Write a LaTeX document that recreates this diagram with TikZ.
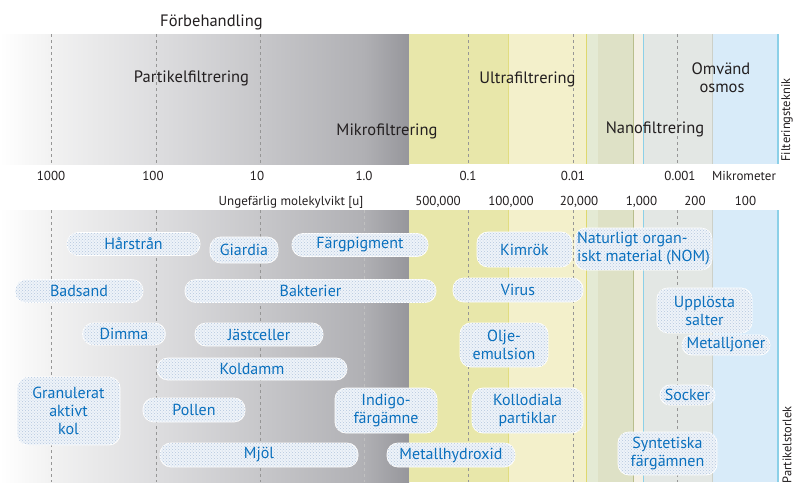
\documentclass[tikz,border=0pt]{standalone}
\usepackage{fontspec}
\setmainfont{PT Sans}
\usetikzlibrary{patterns}
\definecolor{g1}{RGB}{242,242,242}
\definecolor{g2}{RGB}{221,221,223}
\definecolor{g3}{RGB}{199,199,202}
\definecolor{g4}{RGB}{176,176,180}
\definecolor{g5}{RGB}{150,150,155}
\pgfdeclarehorizontalshading{grayband}{100bp}{color(0bp)=(white); color(25bp)=(white); color(31.1bp)=(g1); color(44.1bp)=(g2); color(56.8bp)=(g3); color(69.5bp)=(g4); color(75bp)=(g5); color(100bp)=(g5)}
\definecolor{zA}{RGB}{232,231,170}
\definecolor{zB}{RGB}{243,240,203}
\definecolor{zC}{RGB}{228,234,212}
\definecolor{zD}{RGB}{222,225,198}
\definecolor{zE}{RGB}{244,240,229}
\definecolor{zF}{RGB}{227,231,228}
\definecolor{zG}{RGB}{216,235,249}
\definecolor{lnyel}{RGB}{222,216,110}
\definecolor{lnolive}{RGB}{185,190,140}
\definecolor{lncyan}{RGB}{140,208,232}
\definecolor{lngray}{RGB}{205,208,200}
\definecolor{dashc}{RGB}{150,150,150}
\definecolor{ink}{RGB}{35,31,32}
\definecolor{blobfill}{RGB}{238,243,249}
\definecolor{blobdot}{RGB}{180,199,222}
\definecolor{blobtext}{RGB}{10,112,190}
\tikzset{
  x=1pt, y=-1pt,
  dashline/.style={dashc, line width=0.8pt, dash pattern=on 3pt off 3pt},
  biglabel/.style={text=ink, font=\fontsize{16.5}{18}\selectfont, anchor=base, inner sep=0pt, align=center},
  scalelabel/.style={text=ink, font=\fontsize{13}{14}\selectfont, anchor=base, inner sep=0pt},
  sidelabel/.style={text=ink, font=\fontsize{12.5}{14}\selectfont, rotate=90, inner sep=0pt},
  blob/.style={rectangle, rounded corners=11pt, fill=blobfill, draw=white, line width=0.8pt,
    postaction={pattern=crosshatch dots, pattern color=blobdot},
    text=blobtext, font=\fontsize{16}{18}\selectfont, align=center, inner sep=0pt}
}
\begin{document}
\begin{tikzpicture}
\useasboundingbox (0,0) rectangle (800,493);
\fill[white] (0,0) rectangle (800,493);
% bands
\foreach \ya/\yb in {34/164, 210/482}{
  \fill[shading=grayband] (0,\ya) rectangle (409,\yb);
  \fill[zA] (409,\ya) rectangle (508,\yb);
  \fill[zB] (508,\ya) rectangle (586,\yb);
  \fill[zC] (586,\ya) rectangle (598,\yb);
  \fill[zD] (598,\ya) rectangle (633,\yb);
  \fill[zE] (633,\ya) rectangle (643,\yb);
  \fill[zF] (643,\ya) rectangle (712,\yb);
  \fill[zG] (712,\ya) rectangle (778,\yb);
  \draw[lnyel!70!zA, line width=0.8pt] (508,\ya) -- (508,\yb);
  \draw[lnyel, line width=0.8pt] (586,\ya) -- (586,\yb);
  \draw[lnolive, line width=0.8pt] (633,\ya) -- (633,\yb);
  \draw[lncyan, line width=1pt] (643,\ya) -- (643,\yb);
  \draw[lngray, line width=0.8pt] (712,\ya) -- (712,\yb);
  \draw[lncyan, line width=1.2pt] (778,\ya) -- (778,\yb);
  \foreach \xx in {51,156,260,468,573,677}{
    \draw[dashline] (\xx,\ya) -- (\xx,\yb);
  }
}
\draw[dashline, dashc!60] (364,210) -- (364,482);
% top labels
\node[biglabel] (forb) at (211.5,26) {Förbehandling};
\node[biglabel] (partf) at (191.5,82) {Partikelfiltrering};
\node[biglabel] (mikrof) at (387,135) {Mikrofiltrering};
\node[biglabel] (ultraf) at (527.5,83) {Ultrafiltrering};
\node[biglabel] (nanof) at (655,133) {Nanofiltrering};
\node[biglabel] (omv) at (721,74) {Omvänd};
\node[biglabel] (osm) at (722,92) {osmos};
% scale
\node[scalelabel] (s1000) at (51,180) {1000};
\node[scalelabel] (s100) at (153,180) {100};
\node[scalelabel] (s10) at (257,180) {10};
\node[scalelabel] (s1) at (364,180) {1.0};
\node[scalelabel] (s01) at (468,180) {0.1};
\node[scalelabel] (s001) at (573,180) {0.01};
\node[scalelabel] (s0001) at (680,180) {0.001};
\node[scalelabel] (smik) at (744,180) {Mikrometer};
\node[scalelabel] (umw) at (291,205) {Ungefärlig molekylvikt [u]};
\node[scalelabel] (m500) at (438,205) {500,000};
\node[scalelabel] (m100k) at (511,205) {100,000};
\node[scalelabel] (m20k) at (579,205) {20,000};
\node[scalelabel] (m1k) at (641.5,205) {1,000};
\node[scalelabel] (m200) at (695,205) {200};
\node[scalelabel] (m100) at (745.5,205) {100};
% side labels
\node[sidelabel] (filt) at (787,120) {Filteringsteknik};
\node[sidelabel] (pstor) at (787,445) {Partikelstorlek};
% blobs
\node[blob, minimum width=133pt, minimum height=23pt] (harstran) at (133.5,244) {Hårstrån};
\node[blob, minimum width=68pt, minimum height=26pt] (giardia) at (244,250) {Giardia};
\node[blob, minimum width=136pt, minimum height=23pt] (fargpig) at (360,245) {Färgpigment};
\node[blob, minimum width=128pt, minimum height=23pt] (badsand) at (79,291) {Badsand};
\node[blob, minimum width=251pt, minimum height=23pt] (bakterier) at (310.5,291) {Bakterier};
\node[blob, minimum width=83pt, minimum height=22pt] (dimma) at (124,334) {Dimma};
\node[blob, minimum width=128pt, minimum height=23pt] (jast) at (259,334.5) {Jästceller};
\node[blob, minimum width=190pt, minimum height=22pt] (koldamm) at (252,369) {Koldamm};
\node[blob, minimum width=103pt, minimum height=68pt] (gak) at (68.5,411) {Granulerat\\aktivt\\kol};
\node[blob, minimum width=102pt, minimum height=24pt] (pollen) at (194,410) {Pollen};
\node[blob, minimum width=102pt, minimum height=45pt] (indigo) at (386,410.5) {Indigo-\\färgämne};
\node[blob, minimum width=198pt, minimum height=24pt] (mjol) at (259,455) {Mjöl};
\node[blob, minimum width=128pt, minimum height=24pt] (mhyd) at (451,455) {Metallhydroxid};
\node[blob, minimum width=95pt, minimum height=35pt] (kimrok) at (524.5,249.5) {Kimrök};
\node[blob, minimum width=137pt, minimum height=42pt, align=left] (nom) at (643.5,249) {Naturligt organ-\\iskt material (NOM)};
\node[blob, minimum width=130pt, minimum height=24pt] (virus) at (518,290) {Virus};
\node[blob, minimum width=95pt, minimum height=45pt] (upplosta) at (704.5,310.5) {Upplösta\\salter};
\node[blob, minimum width=88pt, minimum height=44pt] (olje) at (504,345) {Olje-\\emulsion};
\node[blob, minimum width=88pt, minimum height=20pt, rounded corners=10pt] (mjoner) at (726,345) {Metalljoner};
\node[blob, minimum width=55pt, minimum height=20pt, rounded corners=10pt] (socker) at (687.5,395) {Socker};
\node[blob, minimum width=111pt, minimum height=45pt] (koll) at (527.5,410.5) {Kollodiala\\partiklar};
\node[blob, minimum width=99pt, minimum height=43pt] (synt) at (667.5,453.5) {Syntetiska\\färgämnen};
\end{tikzpicture}
\end{document}
